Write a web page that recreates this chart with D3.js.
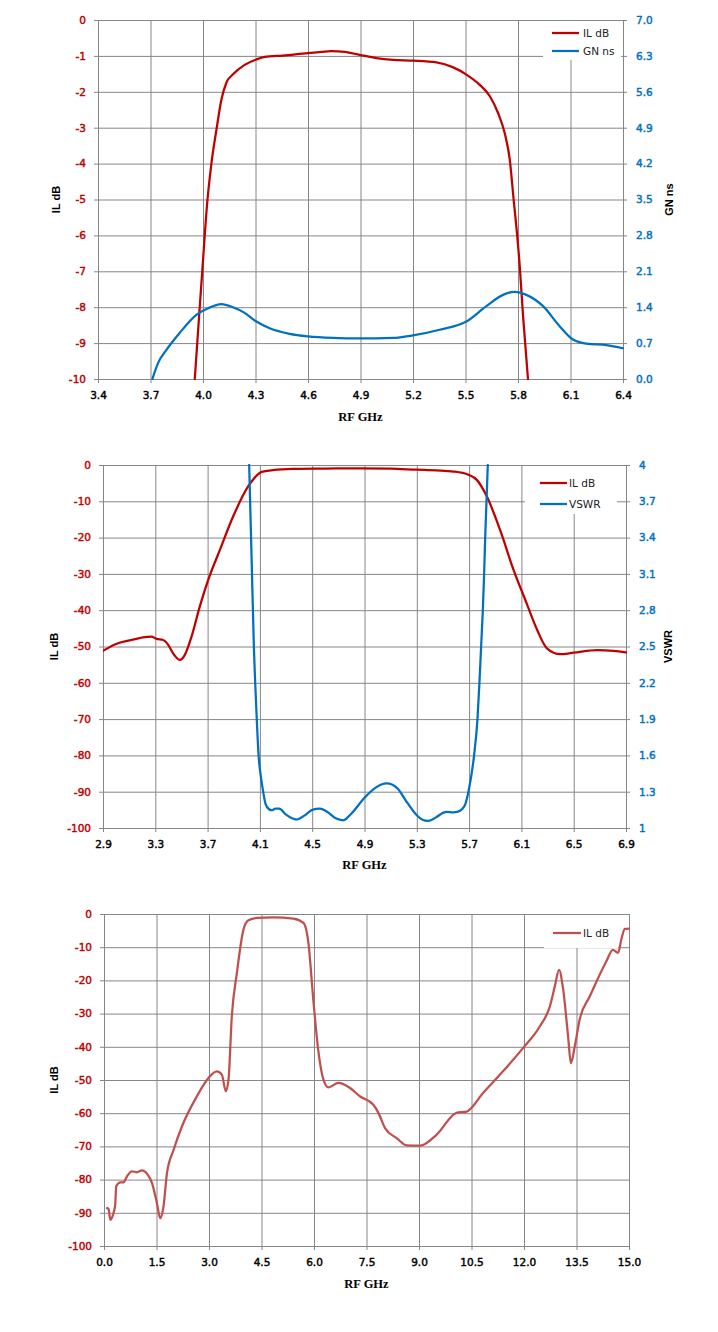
<!DOCTYPE html>
<html><head><meta charset="utf-8">
<script src="https://cdn.jsdelivr.net/npm/d3@7"></script>
<style>body{margin:0;background:#fff}svg{display:block}</style>
</head><body><svg id="c" width="718" height="1332"></svg>
<script>
// ---------- Chart 1 data ----------
const c1XTicks = [3.4,3.7,4.0,4.3,4.6,4.9,5.2,5.5,5.8,6.1,6.4];
const c1XLabels = ["3.4","3.7","4.0","4.3","4.6","4.9","5.2","5.5","5.8","6.1","6.4"];
const c1YTicks = [0,-1,-2,-3,-4,-5,-6,-7,-8,-9,-10];
const c1YLabels = ["0","-1","-2","-3","-4","-5","-6","-7","-8","-9","-10"];
const c1Y2Ticks = [0,0.7,1.4,2.1,2.8,3.5,4.2,4.9,5.6,6.3,7.0];
const c1Y2Labels = ["0.0","0.7","1.4","2.1","2.8","3.5","4.2","4.9","5.6","6.3","7.0"];
const c1ILFreq = [3.953,3.977,4.0,4.023,4.048,4.077,4.105,4.134,4.17,4.238,4.305,4.353,4.457,4.6,4.677,4.733,4.81,4.895,4.99,5.086,5.2,5.334,5.43,5.505,5.58,5.64,5.686,5.724,5.753,5.775,5.794,5.81,5.829,5.857];
const c1IL = [-10,-8.3,-6.7,-5.15,-4.0,-3.05,-2.22,-1.74,-1.52,-1.25,-1.1,-1.03,-0.99,-0.92,-0.89,-0.87,-0.89,-0.97,-1.06,-1.11,-1.13,-1.18,-1.32,-1.52,-1.8,-2.13,-2.59,-3.15,-3.89,-5.0,-5.93,-6.86,-8.25,-10];
const c1GNFreq = [3.711,3.743,3.791,3.867,3.962,4.029,4.105,4.171,4.238,4.305,4.381,4.495,4.6,4.743,4.895,5.086,5.2,5.352,5.505,5.619,5.714,5.781,5.848,5.943,6.038,6.114,6.19,6.305,6.4];
const c1GN = [0,0.31,0.57,0.90,1.25,1.38,1.46,1.40,1.29,1.12,0.99,0.88,0.83,0.80,0.79,0.80,0.85,0.96,1.12,1.42,1.64,1.70,1.64,1.42,1.03,0.77,0.69,0.66,0.60];

// ---------- Chart 2 data ----------
const c2XTicks = [2.9,3.3,3.7,4.1,4.5,4.9,5.3,5.7,6.1,6.5,6.9];
const c2XLabels = ["2.9","3.3","3.7","4.1","4.5","4.9","5.3","5.7","6.1","6.5","6.9"];
const c2YTicks = [0,-10,-20,-30,-40,-50,-60,-70,-80,-90,-100];
const c2YLabels = ["0","-10","-20","-30","-40","-50","-60","-70","-80","-90","-100"];
const c2Y2Ticks = [1,1.3,1.6,1.9,2.2,2.5,2.8,3.1,3.4,3.7,4];
const c2Y2Labels = ["1","1.3","1.6","1.9","2.2","2.5","2.8","3.1","3.4","3.7","4"];
const c2ILFreq = [2.9,3.0,3.156,3.206,3.27,3.31,3.36,3.40,3.436,3.487,3.526,3.577,3.64,3.704,3.794,3.895,4.01,4.05,4.113,4.2,4.355,4.6,4.866,5.1,5.3,5.45,5.58,5.695,5.759,5.836,5.937,6.04,6.14,6.22,6.295,6.397,6.5,6.68,6.805,6.9];
const c2IL = [-51.2,-49.3,-47.9,-47.5,-47.3,-47.9,-48.2,-49.6,-51.9,-53.7,-52.3,-47.3,-39,-31.7,-23.4,-14.2,-5.9,-3.9,-1.9,-1.4,-1.1,-1.0,-0.9,-1.0,-1.3,-1.5,-1.8,-2.7,-4.1,-8.7,-17.9,-28.9,-38.1,-45.4,-50.5,-52.1,-51.7,-51.0,-51.2,-51.6];
const c2VSWRFreq = [4.018,4.036,4.054,4.072,4.09,4.108,4.125,4.143,4.17,4.19,4.22,4.248,4.3,4.381,4.45,4.5,4.559,4.62,4.68,4.738,4.8,4.9,4.98,5.07,5.15,5.22,5.30,5.34,5.388,5.45,5.5,5.529,5.58,5.615,5.645,5.672,5.695,5.738,5.764,5.779,5.792,5.805,5.815,5.823,5.833,5.843];
const c2VSWR = [4.0,3.25,2.5,2.0,1.6,1.42,1.3,1.2,1.155,1.147,1.16,1.16,1.11,1.07,1.11,1.15,1.16,1.13,1.08,1.064,1.12,1.25,1.33,1.368,1.33,1.22,1.105,1.07,1.058,1.09,1.125,1.133,1.13,1.135,1.155,1.2,1.3,1.6,1.9,2.2,2.5,2.8,3.1,3.4,3.7,4.0];

// ---------- Chart 3 data ----------
const c3XTicks = [0,1.5,3,4.5,6,7.5,9,10.5,12,13.5,15];
const c3XLabels = ["0.0","1.5","3.0","4.5","6.0","7.5","9.0","10.5","12.0","13.5","15.0"];
const c3YTicks = [0,-10,-20,-30,-40,-50,-60,-70,-80,-90,-100];
const c3YLabels = ["0","-10","-20","-30","-40","-50","-60","-70","-80","-90","-100"];
const c3Freq = [0.086,0.13,0.18,0.27,0.32,0.35,0.465,0.56,0.656,0.8,0.94,1.085,1.227,1.37,1.51,1.607,1.70,1.80,1.99,2.226,2.654,2.985,3.225,3.368,3.48,3.557,3.652,3.796,3.985,4.127,4.366,4.84,5.41,5.70,5.84,5.98,6.12,6.27,6.41,6.70,7.03,7.31,7.69,7.84,8.03,8.36,8.65,9.03,9.50,10.07,10.36,10.83,11.40,11.97,12.45,12.74,12.88,13.0,13.12,13.26,13.34,13.45,13.59,13.88,14.35,14.54,14.69,14.78,14.88,15.0];
const c3IL = [-88.6,-88.8,-92.1,-90.1,-87.6,-82.0,-80.8,-80.8,-79.0,-77.5,-77.8,-77.2,-78.2,-81.0,-87.0,-91.6,-88.1,-78.0,-71.0,-64.0,-54.9,-49.4,-47.4,-48.4,-53.4,-49.9,-30.8,-17.8,-4.7,-1.9,-1.2,-1.0,-1.4,-2.7,-8.7,-25.8,-40.9,-49.9,-52.2,-50.9,-52.4,-54.9,-57.4,-59.9,-64.5,-67.5,-69.7,-69.8,-66.5,-59.9,-59.5,-53.9,-47.4,-40.4,-33.9,-27.8,-21.8,-16.8,-22.8,-36.9,-44.9,-39.9,-31.8,-24.8,-14.3,-10.8,-11.7,-7.7,-4.5,-4.4];

// ---------- styling ----------
const GRID = "#868686";
const RED = "#c00000";
const BLUE = "#0070c0";
const SOFTRED = "#c0504d";
const TICKFONT = "'DejaVu Sans', Verdana, sans-serif";
const TITLEFONT = "'Liberation Sans', Arial, sans-serif";
const XTITLEFONT = "'Liberation Serif', 'Times New Roman', serif";

const svg = d3.select("#c");
svg.append("rect").attr("width",718).attr("height",1332).attr("fill","#fff");

let clipId = 0;
function panel(cfg) {
  const {L,R,T,B} = cfg;
  const x = d3.scaleLinear().domain(cfg.xDomain).range([L,R]);
  const y = d3.scaleLinear().domain(cfg.yDomain).range([B,T]);
  const y2 = cfg.y2Domain ? d3.scaleLinear().domain(cfg.y2Domain).range([B,T]) : null;
  const g = svg.append("g");

  // gridlines
  g.append("g").attr("transform",`translate(0,${B})`)
    .call(d3.axisBottom(x).tickValues(cfg.xTicks).tickSize(-(B-T)).tickFormat(""))
    .call(s=>{s.select(".domain").remove(); s.selectAll("line").attr("stroke",GRID);});
  g.append("g").attr("transform",`translate(${L},0)`)
    .call(d3.axisLeft(y).tickValues(cfg.yTicks).tickSize(-(R-L)).tickFormat(""))
    .call(s=>{s.select(".domain").remove(); s.selectAll("line").attr("stroke",GRID);});

  // axes
  const styleAxis = (s, color) => {
    s.select(".domain").attr("stroke",GRID);
    s.selectAll(".tick line").attr("stroke",GRID);
    s.selectAll("text").attr("fill",color).attr("font-family",TICKFONT)
      .attr("font-size","10.5px").attr("stroke",color).attr("stroke-width",0.45);
  };
  g.append("g").attr("transform",`translate(0,${B})`)
    .call(d3.axisBottom(x).tickValues(cfg.xTicks).tickSize(4).tickSizeOuter(0).tickPadding(9)
      .tickFormat((d,i)=>cfg.xLabels[i]))
    .call(s=>styleAxis(s,"#000"));
  g.append("g").attr("transform",`translate(${L},0)`)
    .call(d3.axisLeft(y).tickValues(cfg.yTicks).tickSize(4).tickSizeOuter(0).tickPadding(8)
      .tickFormat((d,i)=>cfg.yLabels[i]))
    .call(s=>styleAxis(s,RED));
  if (y2) {
    g.append("g").attr("transform",`translate(${R},0)`)
      .call(d3.axisRight(y2).tickValues(cfg.y2Ticks).tickSize(4).tickSizeOuter(0).tickPadding(9)
        .tickFormat((d,i)=>cfg.y2Labels[i]))
      .call(s=>styleAxis(s,BLUE));
  } else {
    g.append("line").attr("x1",R+0.5).attr("x2",R+0.5).attr("y1",T).attr("y2",B).attr("stroke",GRID);
  }

  // clip
  const id = "clip" + (clipId++);
  svg.append("defs").append("clipPath").attr("id",id)
    .append("rect").attr("x",L).attr("y",T-1).attr("width",R-L+1).attr("height",B-T+2);

  // series
  cfg.series.forEach(s=>{
    const ys = s.axis === 2 ? y2 : y;
    const pts = s.x.map((v,i)=>[v, s.y[i]]);
    g.append("path").datum(pts)
      .attr("clip-path",`url(#${id})`)
      .attr("fill","none").attr("stroke",s.color).attr("stroke-width",2.25)
      .attr("stroke-linejoin","round").attr("stroke-linecap","round")
      .attr("d", d3.line().x(d=>x(d[0])).y(d=>ys(d[1])).curve(d3.curveMonotoneX));
  });

  // legend
  const lg = cfg.legend;
  g.append("rect").attr("x",lg.x).attr("y",lg.y).attr("width",lg.w).attr("height",lg.h).attr("fill","#fff");
  cfg.series.forEach((s,i)=>{
    const ry = lg.rows[i];
    g.append("line").attr("x1",lg.lx1).attr("x2",lg.lx2).attr("y1",ry).attr("y2",ry)
      .attr("stroke",s.color).attr("stroke-width",2.25);
    g.append("text").attr("x",lg.tx).attr("y",ry).attr("dy","0.35em")
      .attr("font-family",TICKFONT).attr("font-size","10.5px").attr("fill","#222")
      .text(s.name);
  });

  // titles
  g.append("text").attr("x",(L+R)/2).attr("y",cfg.xTitleY).attr("text-anchor","middle")
    .attr("font-family",XTITLEFONT).attr("font-weight","bold").attr("font-size","12.5px")
    .attr("fill","#000").text(cfg.xTitle);
  g.append("text").attr("transform",`translate(${cfg.yTitleX},${(T+B)/2}) rotate(-90)`)
    .attr("text-anchor","middle").attr("dy","0.35em")
    .attr("font-family",TITLEFONT).attr("font-weight","bold").attr("font-size","11px")
    .attr("fill","#000").text(cfg.yTitle);
  if (cfg.y2Title) {
    g.append("text").attr("transform",`translate(${cfg.y2TitleX},${(T+B)/2}) rotate(-90)`)
      .attr("text-anchor","middle").attr("dy","0.35em")
      .attr("font-family",TITLEFONT).attr("font-weight","bold").attr("font-size","11px")
      .attr("fill","#000").text(cfg.y2Title);
  }
}

panel({
  L:98, R:623, T:20, B:379,
  xDomain:[3.4,6.4], yDomain:[-10,0], y2Domain:[0,7],
  xTicks:c1XTicks, xLabels:c1XLabels, yTicks:c1YTicks, yLabels:c1YLabels,
  y2Ticks:c1Y2Ticks, y2Labels:c1Y2Labels,
  series:[
    {name:"IL dB", x:c1ILFreq, y:c1IL, axis:1, color:RED},
    {name:"GN ns", x:c1GNFreq, y:c1GN, axis:2, color:BLUE}
  ],
  legend:{x:543, y:21, w:78, h:39, lx1:552, lx2:579, tx:583, rows:[33,51]},
  xTitle:"RF GHz", xTitleY:421, yTitle:"IL dB", yTitleX:56, y2Title:"GN ns", y2TitleX:669
});

panel({
  L:103, R:626, T:465, B:828,
  xDomain:[2.9,6.9], yDomain:[-100,0], y2Domain:[1,4],
  xTicks:c2XTicks, xLabels:c2XLabels, yTicks:c2YTicks, yLabels:c2YLabels,
  y2Ticks:c2Y2Ticks, y2Labels:c2Y2Labels,
  series:[
    {name:"IL dB", x:c2ILFreq, y:c2IL, axis:1, color:RED},
    {name:"VSWR", x:c2VSWRFreq, y:c2VSWR, axis:2, color:BLUE}
  ],
  legend:{x:525, y:466, w:92, h:48, lx1:540, lx2:567, tx:569, rows:[483,504]},
  xTitle:"RF GHz", xTitleY:869, yTitle:"IL dB", yTitleX:54, y2Title:"VSWR", y2TitleX:668
});

panel({
  L:104, R:629, T:914, B:1246,
  xDomain:[0,15], yDomain:[-100,0],
  xTicks:c3XTicks, xLabels:c3XLabels, yTicks:c3YTicks, yLabels:c3YLabels,
  series:[
    {name:"IL dB", x:c3Freq, y:c3IL, axis:1, color:SOFTRED}
  ],
  legend:{x:544, y:915, w:74, h:33, lx1:553, lx2:581, tx:583, rows:[933]},
  xTitle:"RF GHz", xTitleY:1288, yTitle:"IL dB", yTitleX:54
});
</script></body></html>
